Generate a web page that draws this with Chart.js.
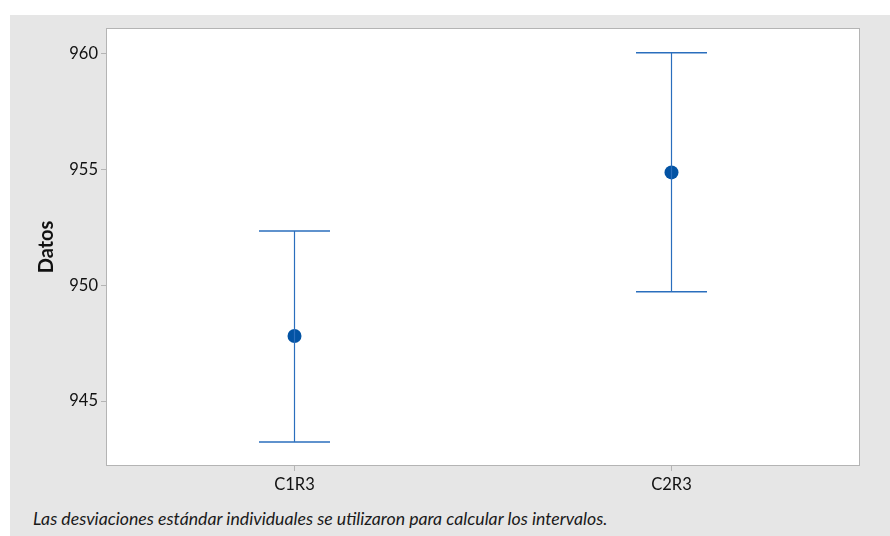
<!DOCTYPE html>
<html>
<head>
<meta charset="utf-8">
<script src="https://cdn.jsdelivr.net/npm/chart.js@4/dist/chart.umd.min.js"></script>
<style>
  html, body { margin: 0; padding: 0; background: #ffffff; }
  #frame { position: absolute; left: 10px; top: 15px; width: 880px; height: 521px; background: #e6e6e6; }
  #wrap { position: absolute; left: 0; top: 0; width: 880px; height: 492px; }
  #note { position: absolute; left: 23px; top: 493px; font-family: Lato, "Open Sans", sans-serif; font-style: italic; font-size: 17.7px; color: #1a1a1a; white-space: nowrap; }
</style>
</head>
<body>
<div id="frame">
  <div id="wrap"><canvas id="c"></canvas></div>
  <div id="note">Las desviaciones estándar individuales se utilizaron para calcular los intervalos.</div>
</div>
<script>
const categories = ["C1R3", "C2R3"];
const means = [947.81, 954.87];
const lowerCI = [943.24, 949.72];
const upperCI = [952.34, 960.03];
const yTickLabels = [945, 950, 955, 960];

const lineColor = "#2a6ebd";
const dotColor = "#0353a4";
const fontFam = "Lato, 'Open Sans', sans-serif";

const datasets = [];
categories.forEach((cat, i) => {
  datasets.push({
    type: "line",
    data: [{ x: cat, y: lowerCI[i] }, { x: cat, y: upperCI[i] }],
    borderColor: lineColor,
    borderWidth: 1.2,
    pointStyle: "line",
    pointRadius: 35.5,
    pointHoverRadius: 35.5,
    pointBorderColor: lineColor,
    pointBorderWidth: 1.5,
    showLine: true,
    fill: false
  });
});
datasets.push({
  type: "line",
  data: categories.map((cat, i) => ({ x: cat, y: means[i] })),
  showLine: false,
  pointStyle: "circle",
  pointRadius: 7,
  pointHoverRadius: 7,
  pointBackgroundColor: dotColor,
  pointBorderColor: dotColor,
  pointBorderWidth: 0
});

const areaPlugin = {
  id: "area",
  beforeDraw(chart) {
    const { ctx, chartArea: a } = chart;
    ctx.save();
    ctx.fillStyle = "#ffffff";
    ctx.fillRect(a.left, a.top, a.right - a.left, a.bottom - a.top);
    ctx.restore();
  },
  afterDraw(chart) {
    const { ctx, chartArea: a } = chart;
    ctx.save();
    ctx.strokeStyle = "#b4b4b4";
    ctx.lineWidth = 1;
    ctx.strokeRect(Math.round(a.left) + 0.5, Math.round(a.top) + 0.5, Math.round(a.right - a.left) - 1, Math.round(a.bottom - a.top) - 1);
    ctx.restore();
  }
};

new Chart(document.getElementById("c"), {
  type: "line",
  data: { labels: categories, datasets },
  plugins: [areaPlugin],
  options: {
    responsive: true,
    maintainAspectRatio: false,
    animation: false,
    layout: { autoPadding: false, padding: { left: 0, top: 13, right: 30, bottom: 0 } },
    plugins: { legend: { display: false }, tooltip: { enabled: false } },
    scales: {
      x: {
        type: "category",
        offset: true,
        afterFit(s) { s.height = 41; },
        grid: { display: true, drawOnChartArea: false, drawTicks: true, tickLength: 5, color: "#b4b4b4", offset: false },
        border: { display: false },
        ticks: { color: "#111", padding: 4, font: { family: fontFam, size: 16.5 } }
      },
      y: {
        type: "linear",
        min: 942.2,
        max: 961.1,
        afterBuildTicks(s) { s.ticks = yTickLabels.map(v => ({ value: v })); },
        afterFit(s) { s.width = 96; },
        grid: { display: true, drawOnChartArea: false, drawTicks: true, tickLength: 5, color: "#b4b4b4" },
        border: { display: false },
        ticks: { color: "#111", padding: 3, font: { family: fontFam, size: 16.5 } },
        title: { display: true, text: "Datos", color: "#111", padding: { top: 25, bottom: 0 }, font: { family: fontFam, size: 20, weight: "bold" } }
      }
    }
  }
});
</script>
</body>
</html>
